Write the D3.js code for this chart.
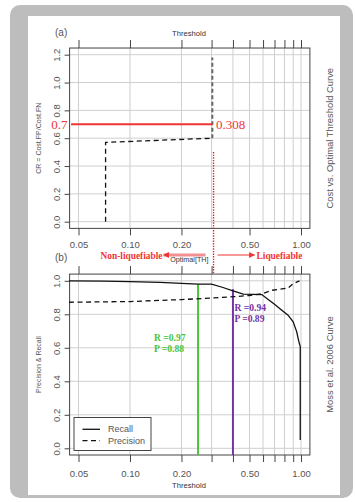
<!DOCTYPE html>
<html>
<head>
<meta charset="utf-8">
<script src="https://cdn.jsdelivr.net/npm/d3@7"></script>
<style>
  body { margin: 0; background: #fff; }
  svg { display: block; }
  text { font-family: "Liberation Sans", Arial, sans-serif; }
  .serif { font-family: "Liberation Serif", "Times New Roman", serif; }
</style>
</head>
<body>
<div id="chart"></div>
<script>
// threshold axis
const majorTicks = [0.05, 0.10, 0.20, 0.50, 1.00];
const gridTicks = [0.05, 0.1, 0.2, 0.3, 0.4, 0.5, 0.6, 0.7, 0.8, 0.9, 1.0];
const crTicks = [0.0, 0.2, 0.4, 0.6, 0.8, 1.0, 1.2];
const prTicks = [0.0, 0.2, 0.4, 0.6, 0.8, 1.0];

// (a) cost vs optimal threshold
const costStepTh = [0.072, 0.072, 0.303];
const costStepCR = [0.0, 0.57, 0.60];
const costVertTh = [0.303, 0.303];
const costVertCR = [0.60, 1.18];
const chosenCR = 0.7;
const optimalTh = 0.308;

// (b) Moss et al. 2006 curve
const recallTh = [0.044, 0.07, 0.10, 0.15, 0.20, 0.25, 0.30, 0.35, 0.40, 0.46, 0.59, 0.64, 0.70, 0.75, 0.84, 0.90, 0.944, 0.97, 0.99, 0.99];
const recallVal = [1.0, 0.998, 0.995, 0.99, 0.985, 0.98, 0.98, 0.96, 0.94, 0.92, 0.918, 0.89, 0.86, 0.835, 0.795, 0.755, 0.695, 0.64, 0.607, 0.05];
const precTh = [0.044, 0.10, 0.20, 0.30, 0.40, 0.50, 0.59, 0.67, 0.84, 0.90, 0.98];
const precVal = [0.872, 0.876, 0.888, 0.897, 0.905, 0.912, 0.922, 0.943, 0.957, 0.983, 1.0];

const markTh = [0.25, 0.40];
const markTop = [0.98, 0.95];
const markR = ["R =0.97", "R =0.94"];
const markP = ["P =0.88", "P =0.89"];
const markLabelY = [0.64, 0.82];
const markColors = ["#4cc43a", "#7235a6"];

const width = 355, height = 502;
const axisColor = "#444", labelColor = "#555", gridColor = "#cfcfcf";
const red = "#f03434";

const svg = d3.select("#chart").append("svg")
  .attr("width", width)
  .attr("height", height);

// frame
svg.append("rect")
  .attr("x", 10).attr("y", 5)
  .attr("width", 343).attr("height", 493)
  .attr("rx", 10)
  .attr("fill", "#bdbdbd");
svg.append("rect")
  .attr("x", 28).attr("y", 16)
  .attr("width", 312).attr("height", 479)
  .attr("fill", "#fff");

const x = d3.scaleLog().domain([0.05, 1]).range([78.5, 301]);
const xPad = (x.range()[1] - x.range()[0]) * 0.04;
const boxLeft = x.range()[0] - xPad, boxRight = x.range()[1] + xPad;

const yA = d3.scaleLinear().domain([0, 1.2]).range([221.7, 54.7]);
const yB = d3.scaleLinear().domain([0, 1.0]).range([448.3, 280.8]);

function boxOf(y) {
  const r = y.range();
  const pad = (r[0] - r[1]) * 0.04;
  return {top: r[1] - pad, bottom: r[0] + pad};
}

function drawPanel(y, yTicks, opts) {
  const box = boxOf(y);
  const g = svg.append("g");

  // grid
  g.selectAll(".vgrid").data(gridTicks).enter().append("line")
    .attr("x1", d => x(d)).attr("x2", d => x(d))
    .attr("y1", box.top).attr("y2", box.bottom)
    .attr("stroke", gridColor).attr("stroke-width", 1);
  g.selectAll(".hgrid").data(yTicks).enter().append("line")
    .attr("x1", boxLeft).attr("x2", boxRight)
    .attr("y1", d => y(d)).attr("y2", d => y(d))
    .attr("stroke", gridColor).attr("stroke-width", 1);

  // bottom axis
  const bottom = g.append("g")
    .attr("transform", `translate(0,${box.bottom})`)
    .call(d3.axisBottom(x).tickValues(opts.bottomTicks)
      .tickFormat(d => majorTicks.includes(d) ? d3.format(".2f")(d) : "")
      .tickSize(7).tickPadding(opts.tickPad));
  // top axis
  const top = g.append("g")
    .attr("transform", `translate(0,${box.top})`)
    .call(d3.axisTop(x).tickValues(gridTicks).tickFormat("").tickSize(8));
  // left axis
  const left = g.append("g")
    .attr("transform", `translate(${boxLeft},0)`)
    .call(d3.axisLeft(y).tickValues(yTicks).tickFormat(d3.format(".1f")).tickSize(5));
  left.selectAll("text")
    .attr("x", null).attr("dy", "0.35em")
    .attr("transform", "translate(-13,0) rotate(-90)")
    .attr("text-anchor", "middle");

  [bottom, top, left].forEach(a => {
    a.select(".domain").remove();
    a.selectAll("line").attr("stroke", axisColor);
    a.selectAll("text").attr("fill", labelColor)
      .style("font-size", "9.5px")
      .style("font-family", "'Liberation Sans', Arial, sans-serif");
  });

  // box
  g.append("rect")
    .attr("x", boxLeft).attr("y", box.top)
    .attr("width", boxRight - boxLeft).attr("height", box.bottom - box.top)
    .attr("fill", "none").attr("stroke", axisColor).attr("stroke-width", 1);

  // y label
  g.append("text")
    .attr("transform", `translate(${opts.yLabelX},${(box.top + box.bottom) / 2}) rotate(-90)`)
    .attr("text-anchor", "middle")
    .attr("fill", labelColor)
    .style("font-size", "7px")
    .text(opts.yLabel);

  // side title
  g.append("text")
    .attr("transform", `translate(333,${(box.top + box.bottom) / 2}) rotate(-90)`)
    .attr("text-anchor", "middle")
    .attr("fill", labelColor)
    .style("font-size", "9.4px")
    .text(opts.side);

  // panel tag
  g.append("text")
    .attr("x", 55).attr("y", opts.tagY)
    .attr("fill", labelColor)
    .style("font-size", "10px")
    .text(opts.tag);

  return box;
}

const boxA = drawPanel(yA, crTicks, {
  bottomTicks: majorTicks,
  tickPad: 6,
  yLabel: "CR = Cost.FP/Cost.FN",
  yLabelX: 41,
  side: "Cost vs. Optimal Threshold Curve",
  tag: "(a)",
  tagY: 36
});
const boxB = drawPanel(yB, prTicks, {
  bottomTicks: gridTicks,
  tickPad: 8,
  yLabel: "Precision & Recall",
  yLabelX: 41,
  side: "Moss et al. 2006 Curve",
  tag: "(b)",
  tagY: 261
});

// axis titles
svg.append("text")
  .attr("x", 189).attr("y", 36)
  .attr("text-anchor", "middle")
  .attr("fill", "#333")
  .style("font-size", "7.6px")
  .text("Threshold");
svg.append("text")
  .attr("x", 189).attr("y", 488)
  .attr("text-anchor", "middle")
  .attr("fill", "#333")
  .style("font-size", "7.6px")
  .text("Threshold");

// ---- panel (a) marks
const lineA = d3.line().x(d => x(d[0])).y(d => yA(d[1]));

svg.append("path")
  .datum(d3.zip(costStepTh, costStepCR))
  .attr("d", lineA)
  .attr("fill", "none")
  .attr("stroke", "#111")
  .attr("stroke-width", 1.3)
  .attr("stroke-dasharray", "5,3.5");

svg.append("path")
  .datum(d3.zip(costVertTh, costVertCR))
  .attr("d", lineA)
  .attr("fill", "none")
  .attr("stroke", "#666")
  .attr("stroke-width", 2)
  .attr("stroke-dasharray", "4,2.5");

// chosen cost ratio
svg.append("line")
  .attr("x1", boxLeft + 1.5).attr("x2", x(costVertTh[0]))
  .attr("y1", yA(chosenCR)).attr("y2", yA(chosenCR))
  .attr("stroke", red).attr("stroke-width", 2);

svg.append("text")
  .attr("class", "serif")
  .attr("x", boxLeft - 2).attr("y", yA(chosenCR) + 4.5)
  .attr("text-anchor", "end")
  .attr("fill", red)
  .style("font-size", "13px")
  .text(d3.format(".1f")(chosenCR));

svg.append("text")
  .attr("class", "serif")
  .attr("x", x(optimalTh) + 2.5).attr("y", yA(chosenCR) + 4.5)
  .attr("fill", red)
  .style("font-size", "13px")
  .text(d3.format(".3f")(optimalTh));

// optimal threshold dotted
svg.append("line")
  .attr("x1", x(optimalTh)).attr("x2", x(optimalTh))
  .attr("y1", yA(0.5)).attr("y2", boxB.top)
  .attr("stroke", "#ee2020").attr("stroke-width", 1.4)
  .attr("stroke-dasharray", "1.4,1.2");

// direction arrows
const defs = svg.append("defs");
defs.append("marker")
  .attr("id", "arrow")
  .attr("viewBox", "0 0 10 10")
  .attr("refX", 9).attr("refY", 5)
  .attr("markerWidth", 6).attr("markerHeight", 6)
  .attr("markerUnits", "userSpaceOnUse")
  .attr("orient", "auto")
  .append("path")
  .attr("d", "M0,0 L10,5 L0,10 z")
  .attr("fill", red);

const ox = x(optimalTh), arrowY = 255;
svg.append("line")
  .attr("x1", ox - 8).attr("x2", ox - 50)
  .attr("y1", arrowY).attr("y2", arrowY)
  .attr("stroke", "#f29090").attr("stroke-width", 3)
  .attr("marker-end", "url(#arrow)");
svg.append("line")
  .attr("x1", ox + 4).attr("x2", ox + 41)
  .attr("y1", arrowY).attr("y2", arrowY)
  .attr("stroke", red).attr("stroke-width", 1.2)
  .attr("marker-end", "url(#arrow)");

svg.append("text")
  .attr("class", "serif")
  .attr("x", ox - 51).attr("y", 258.8)
  .attr("text-anchor", "end")
  .attr("fill", red)
  .style("font-size", "9.4px")
  .style("font-weight", "bold")
  .text("Non-liquefiable");
svg.append("text")
  .attr("class", "serif")
  .attr("x", ox + 43).attr("y", 258.8)
  .attr("fill", red)
  .style("font-size", "9.4px")
  .style("font-weight", "bold")
  .text("Liquefiable");
svg.append("text")
  .attr("x", ox - 5).attr("y", 262)
  .attr("text-anchor", "end")
  .attr("fill", "#333")
  .style("font-size", "7.2px")
  .text("Optimal[TH]");

// ---- panel (b) marks
const lineB = d3.line().x(d => x(d[0])).y(d => yB(d[1]));

svg.selectAll(".mark").data(markTh).enter().append("line")
  .attr("x1", d => x(d)).attr("x2", d => x(d))
  .attr("y1", (d, i) => yB(markTop[i])).attr("y2", boxB.bottom)
  .attr("stroke", (d, i) => markColors[i])
  .attr("stroke-width", 2);

svg.append("path")
  .datum(d3.zip(precTh, precVal))
  .attr("d", lineB)
  .attr("fill", "none")
  .attr("stroke", "#111")
  .attr("stroke-width", 1.3)
  .attr("stroke-dasharray", "5,3.5");

svg.append("path")
  .datum(d3.zip(recallTh, recallVal))
  .attr("d", lineB)
  .attr("fill", "none")
  .attr("stroke", "#111")
  .attr("stroke-width", 1.3);

markTh.forEach((t, i) => {
  const lx = i === 0 ? x(t) - 44 : x(t) + 1.5;
  const ly = yB(markLabelY[i]);
  svg.append("text")
    .attr("class", "serif")
    .attr("x", lx).attr("y", ly)
    .attr("fill", markColors[i])
    .style("font-size", "9.6px")
    .style("font-weight", "bold")
    .text(markR[i]);
  svg.append("text")
    .attr("class", "serif")
    .attr("x", lx).attr("y", ly + 11)
    .attr("fill", markColors[i])
    .style("font-size", "9.6px")
    .style("font-weight", "bold")
    .text(markP[i]);
});

// legend
const legend = svg.append("g").attr("transform", "translate(74,417.5)");
legend.append("rect")
  .attr("width", 77).attr("height", 33)
  .attr("fill", "#fff").attr("stroke", axisColor).attr("stroke-width", 1);
[["Recall", null], ["Precision", "5,3.5"]].forEach((d, i) => {
  legend.append("line")
    .attr("x1", 8.5).attr("x2", 26)
    .attr("y1", 11.8 + i * 11.4).attr("y2", 11.8 + i * 11.4)
    .attr("stroke", "#111").attr("stroke-width", 1.3)
    .attr("stroke-dasharray", d[1]);
  legend.append("text")
    .attr("x", 34).attr("y", 14.5 + i * 12.4)
    .attr("fill", labelColor)
    .style("font-size", "9px")
    .text(d[0]);
});
</script>
</body>
</html>
